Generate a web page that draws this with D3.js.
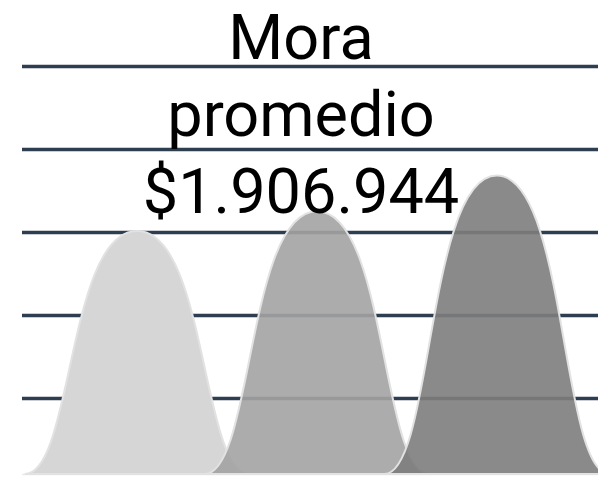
<!DOCTYPE html>
<html>
<head>
<meta charset="utf-8">
<script src="https://cdn.jsdelivr.net/npm/d3@7"></script>
<style>
  html, body { margin: 0; padding: 0; background: #fff; }
  svg { display: block; }
</style>
</head>
<body>
<div id="chart"></div>
<script>
// chart values
const categories = ['Grupo 1', 'Grupo 2', 'Grupo 3'];
const values = [1506000, 1625000, 1840000];
const tickValues = [500000, 1000000, 1500000, 2000000, 2500000];
const titleLines = ['Mora', 'promedio', '$1.906.944'];
const fills = ['#d6d6d6', '#a3a3a3', '#7d7d7d'];

const width = 598;
const height = 478;
const margin = { top: 66, left: 22, bottom: 4 };
const plotBottom = height - margin.bottom;

const svg = d3.select('#chart').append('svg')
  .attr('width', width)
  .attr('height', height);

const x = d3.scalePoint()
  .domain(categories)
  .range([margin.left, width + 14])
  .padding(0.64);

const y = d3.scaleLinear()
  .domain([0, 2500000])
  .range([481, margin.top]);

// grid lines
const grid = svg.append('g')
  .attr('class', 'grid')
  .attr('transform', `translate(${margin.left},0)`)
  .call(d3.axisLeft(y).tickValues(tickValues).tickSize(-(width - margin.left)).tickFormat(''));
grid.select('.domain').remove();
grid.selectAll('.tick line')
  .attr('stroke', '#2c3e50')
  .attr('stroke-width', 3.5);

// faint x axis line
svg.append('line')
  .attr('x1', margin.left).attr('x2', width)
  .attr('y1', plotBottom + 0.5).attr('y2', plotBottom + 0.5)
  .attr('stroke', '#ebebeb')
  .attr('stroke-width', 1.5);

// mountain shape, drawn from the plot bottom up to the value
const halfWidth = x.step() * 0.625;
function mountain(cx, top) {
  const p = d3.path();
  const a = 0.57, b = 0.62;
  p.moveTo(cx - halfWidth, plotBottom);
  p.bezierCurveTo(cx - halfWidth * a, plotBottom, cx - halfWidth * b, top, cx, top);
  p.bezierCurveTo(cx + halfWidth * b, top, cx + halfWidth * a, plotBottom, cx + halfWidth, plotBottom);
  p.closePath();
  return p.toString();
}

svg.append('g')
  .attr('class', 'mountains')
  .selectAll('path')
  .data(values)
  .join('path')
  .attr('d', (d, i) => mountain(x(categories[i]), y(d)))
  .attr('fill', (d, i) => fills[i])
  .attr('fill-opacity', (d, i) => i === 0 ? 1 : 0.9)
  .attr('stroke', '#e2e2e2')
  .attr('stroke-width', 2);

// title, one text per line
svg.append('g')
  .attr('class', 'title')
  .selectAll('text')
  .data(titleLines)
  .join('text')
  .attr('text-anchor', 'middle')
  .attr('font-family', 'Roboto, sans-serif')
  .attr('font-size', 63)
  .attr('fill', '#000')
  .attr('x', 301)
  .attr('y', (d, i) => 59 + i * 77)
  .text(d => d);
</script>
</body>
</html>
